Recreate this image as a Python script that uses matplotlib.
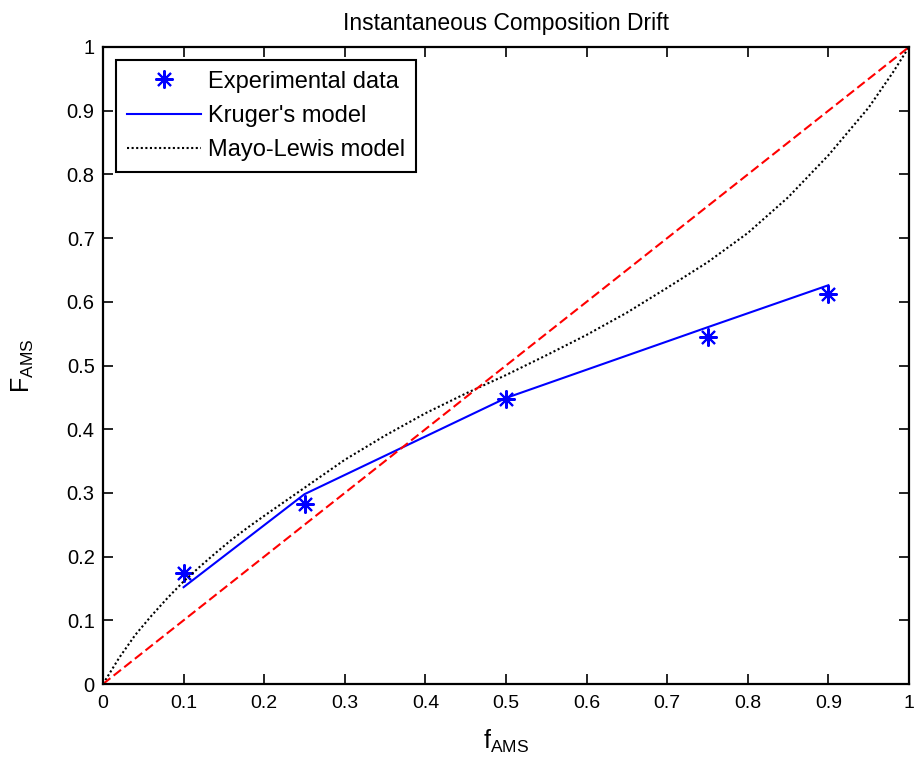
# -*- coding: utf-8 -*-

import matplotlib
matplotlib.use('Agg')

import matplotlib.pyplot as plt
from matplotlib.ticker import FormatStrFormatter

plt.rcParams['font.family'] = ['Liberation Sans', 'DejaVu Sans']
plt.rcParams['mathtext.fontset'] = 'custom'
plt.rcParams['mathtext.rm'] = 'Liberation Sans'

# experimental points
f_exp = [0.1, 0.25, 0.5, 0.75, 0.9]
F_exp = [0.174, 0.283, 0.447, 0.545, 0.612]

# Kruger's model
f_kruger = [0.1, 0.25, 0.5, 0.75, 0.9]
F_kruger = [0.152, 0.298, 0.449, 0.560, 0.626]

# Mayo-Lewis model
f_ml = [0, 0.02, 0.04, 0.06, 0.08, 0.1, 0.12, 0.14, 0.16, 0.18, 0.2,
        0.25, 0.3, 0.35, 0.4, 0.45, 0.5, 0.55, 0.6, 0.65, 0.7,
        0.75, 0.8, 0.85, 0.9, 0.95, 0.98, 1.0]
F_ml = [0, 0.041, 0.077, 0.107, 0.135, 0.161, 0.184, 0.206, 0.227, 0.246, 0.264,
        0.308, 0.352, 0.39, 0.425, 0.456, 0.485, 0.516, 0.548, 0.583, 0.622,
        0.662, 0.708, 0.764, 0.830, 0.905, 0.96, 1.0]

# diagonal F = f
f_diag = [0, 1]
F_diag = [0, 1]

ticks = [0, 0.1, 0.2, 0.3, 0.4, 0.5, 0.6, 0.7, 0.8, 0.9, 1]

fig = plt.figure(figsize=(9.18, 7.59), dpi=100)
ax = fig.add_axes([103 / 918., 75 / 759., 806 / 918., 637 / 759.])

ax.plot(f_exp, F_exp, linestyle='none', marker=(8, 2, 0), color='b',
        markersize=13, markeredgewidth=1.5, label='Experimental data')
ax.plot(f_kruger, F_kruger, '-', color='b', lw=1.5, label="Kruger's model")
ax.plot(f_ml, F_ml, color='k', lw=1.5, linestyle=(0, (1, 1.2)),
        label='Mayo-Lewis model')
ax.plot(f_diag, F_diag, color='r', lw=1.5, linestyle=(0, (4.5, 2)))

ax.set_xlim(0, 1)
ax.set_ylim(0, 1)
ax.set_xticks(ticks)
ax.set_yticks(ticks)
ax.xaxis.set_major_formatter(FormatStrFormatter('%g'))
ax.yaxis.set_major_formatter(FormatStrFormatter('%g'))
ax.tick_params(direction='in', length=7, width=1.2, top=True, right=True)
ax.tick_params(axis='x', pad=8, labelsize=14)
ax.tick_params(axis='y', pad=6, labelsize=14.5)
for s in ax.spines.values():
    s.set_linewidth(1.6)

ax.set_title('Instantaneous Composition Drift', fontsize=16.5, pad=12)
ax.set_xlabel(r'$\mathregular{f_{AMS}}$', fontsize=18, labelpad=11)
ax.set_ylabel(r'$\mathregular{F_{AMS}}$', fontsize=18, labelpad=22)

leg = ax.legend(loc='upper left', numpoints=1, fontsize=17, fancybox=False,
                edgecolor='k', framealpha=1, borderaxespad=0.55,
                handlelength=3.15, handletextpad=0.3, labelspacing=0.52,
                borderpad=0.45)
leg.get_frame().set_linewidth(1.5)

fig.savefig('out.png', dpi=100)
